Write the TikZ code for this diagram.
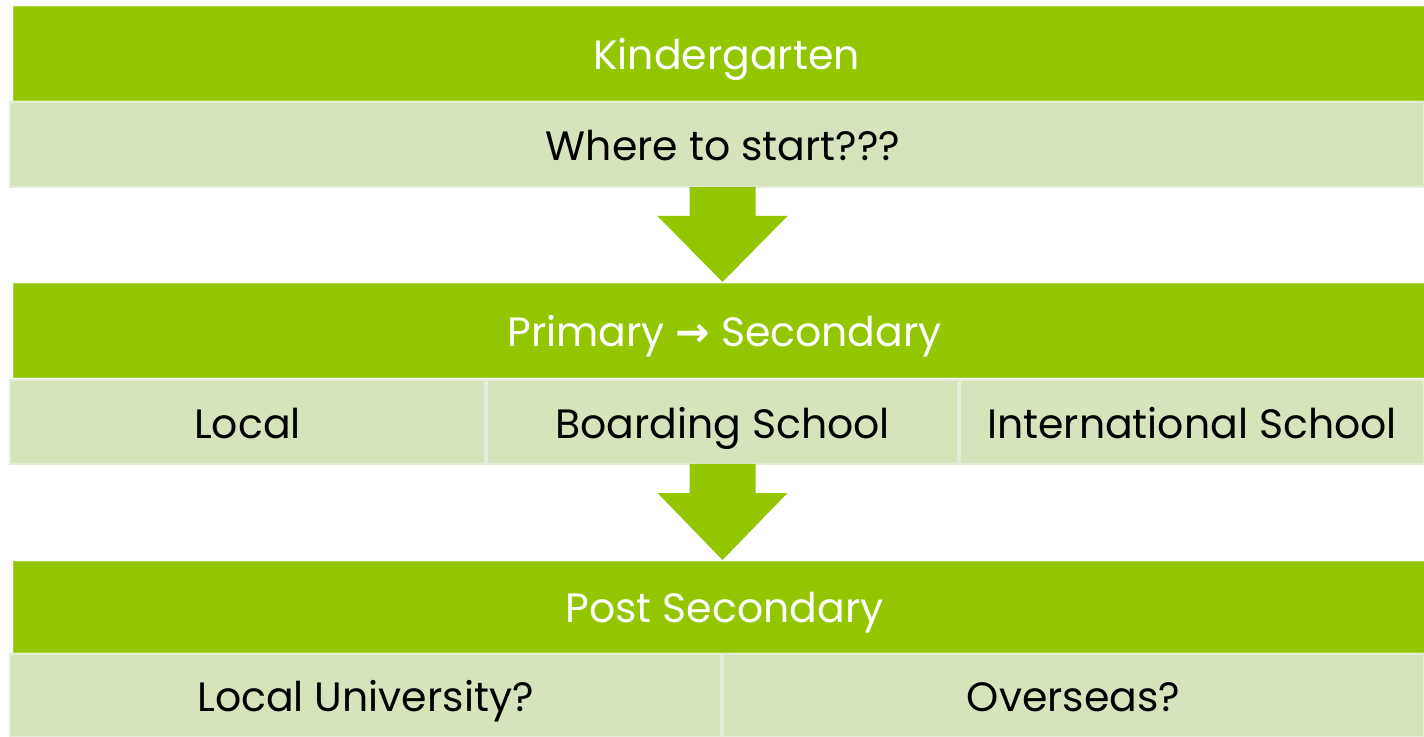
\documentclass[tikz,border=0pt]{standalone}
\usepackage{fontspec}
\setmainfont{Poppins}
\newfontfamily\symfont{DejaVu Sans}
\usetikzlibrary{calc}
\definecolor{bargreen}{RGB}{148,198,0}
\definecolor{cellgreen}{RGB}{214,228,187}
\definecolor{celledge}{RGB}{229,237,216}
\definecolor{baredge}{RGB}{170,212,60}
\tikzset{
  header/.style={fill=bargreen, draw=baredge, line width=0.5pt, text=white,
    anchor=north west, inner sep=0pt, outer sep=0pt,
    text height=20pt, text depth=4pt,
    minimum width=705.5pt, font=\fontsize{20.5}{24}\selectfont},
  cell/.style={fill=cellgreen, draw=celledge, line width=1pt, text=black,
    anchor=north west, inner sep=0pt, outer sep=0pt,
    text height=20pt, text depth=4pt,
    font=\fontsize{20.5}{24}\selectfont},
  downarrow/.style={fill=bargreen}
}
\begin{document}
\begin{tikzpicture}[x=0.5pt,y=-0.5pt]
\useasboundingbox (0,0) rectangle (1424,737);
% kindergarten
\node[header, minimum height=47pt] (kinder) at (13,7) {\hspace*{8pt}Kindergarten};
\node[cell, minimum width=707pt, minimum height=42.5pt] (start) at (10,102) {\hspace*{6pt}Where to start???};
% primary and secondary
\node[header, minimum height=47pt] (primary) at (13,284) {\hspace*{6pt}Primary {\symfont\bfseries→} Secondary};
\node[cell, minimum width=237.5pt, minimum height=42pt] (local) at (10,380) {Local};
\node[cell, minimum width=235.5pt, minimum height=42pt] (boarding) at (487,380) {Boarding School};
\node[cell, minimum width=232pt, minimum height=42pt] (intl) at (960,380) {International School};
% post secondary
\node[header, minimum height=45.5pt] (post) at (13,561) {\hspace*{6pt}Post Secondary};
\node[cell, minimum width=355.5pt, minimum height=41.5pt] (localuni) at (10,654) {Local University?};
\node[cell, minimum width=350.5pt, minimum height=41.5pt] (overseas) at (723,654) {Overseas?};
% arrows
\coordinate (gap1) at ($(start.south)+(5.5,0)$);
\fill[downarrow] ($(gap1)+(-33,0)$) -- ($(gap1)+(33,0)$)
  -- ($(gap1)+(33,29)$) -- ($(gap1)+(65,29)$)
  -- ($(gap1)+(0,95)$) -- ($(gap1)+(-65,29)$)
  -- ($(gap1)+(-33,29)$) -- cycle;
\fill[downarrow] ($(boarding.south)+(-33,0)$) -- ($(boarding.south)+(33,0)$)
  -- ($(boarding.south)+(33,29)$) -- ($(boarding.south)+(65,29)$)
  -- ($(boarding.south)+(0,96)$) -- ($(boarding.south)+(-65,29)$)
  -- ($(boarding.south)+(-33,29)$) -- cycle;
\end{tikzpicture}
\end{document}
